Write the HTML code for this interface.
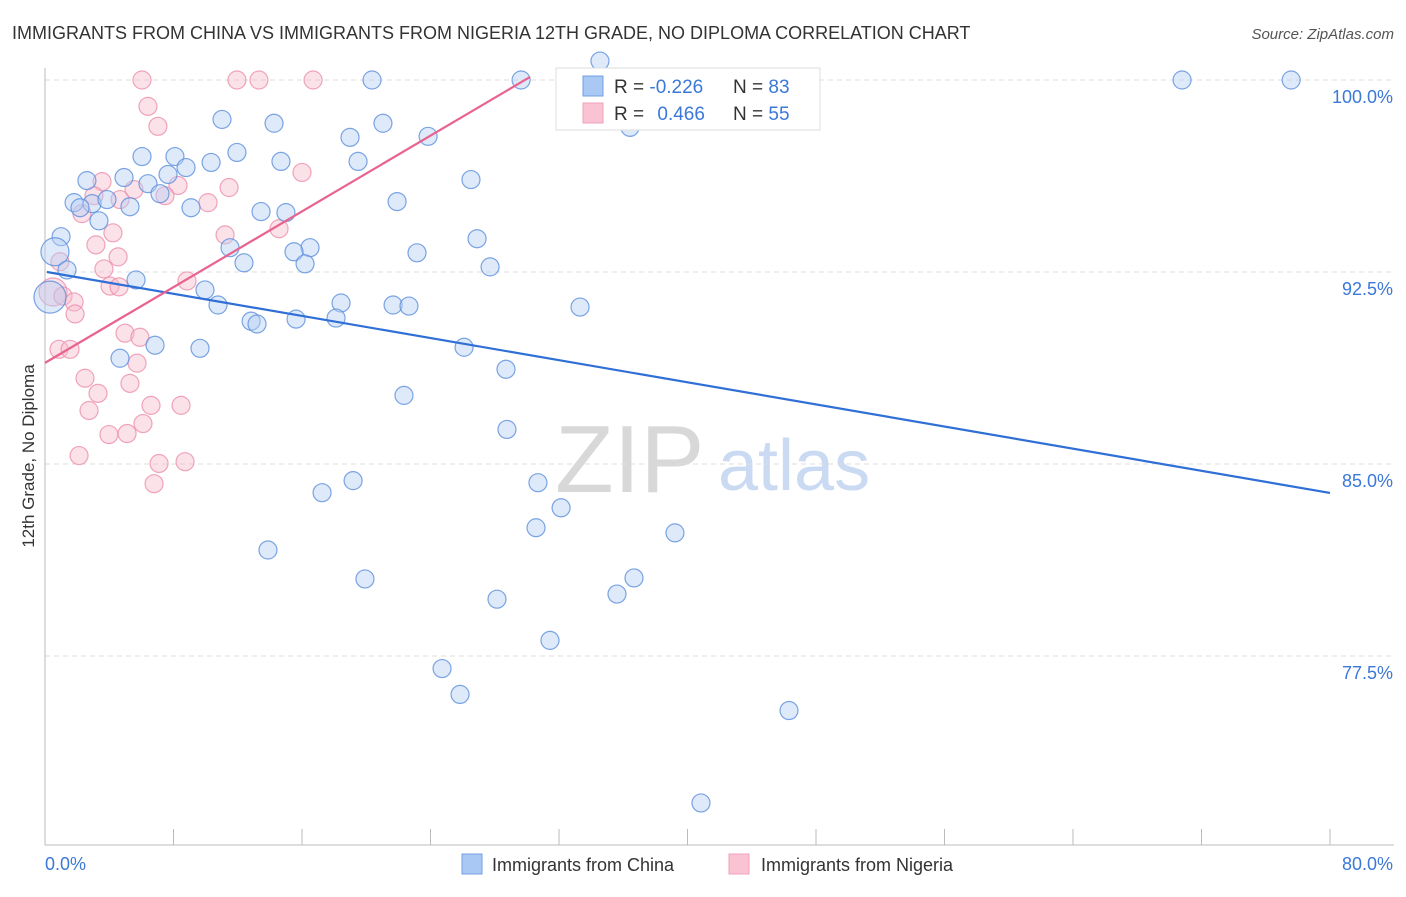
<!DOCTYPE html>
<html><head><meta charset="utf-8"><style>
body{margin:0;background:#fff;font-family:"Liberation Sans",sans-serif;}
svg text{font-family:"Liberation Sans",sans-serif;}
</style></head><body>
<svg id="chart" width="1406" height="892" viewBox="0 0 1406 892" xmlns="http://www.w3.org/2000/svg">
<text x="12" y="39" font-size="18" fill="#333">IMMIGRANTS FROM CHINA VS IMMIGRANTS FROM NIGERIA 12TH GRADE, NO DIPLOMA CORRELATION CHART</text>
<text x="1394" y="39" font-size="15" fill="#555" text-anchor="end" font-style="italic">Source: ZipAtlas.com</text>
<g>
<text x="555" y="492" font-size="96" fill="#d8d8d8" font-family="Liberation Serif,serif">ZIP</text>
<text x="718" y="490" font-size="72" fill="#c9daf2">atlas</text>
</g>
<g id="grid"></g>
<g id="axes"></g>
<g id="pts"></g>
<g id="lines"></g>
<text transform="translate(34,456) rotate(-90)" font-size="17" fill="#333" text-anchor="middle">12th Grade, No Diploma</text>
<g>
<rect x="556" y="68" width="264" height="62" fill="#fff" stroke="#ddd"/>
<rect x="583" y="76" width="20" height="20" fill="#a9c8f3" stroke="#6f9fe0"/>
<rect x="583" y="103" width="20" height="20" fill="#f9c3d3" stroke="#f0a0b8"/>
<text x="614" y="93" font-size="19" fill="#333">R = <tspan fill="#3b78d8">-0.226</tspan></text>
<text x="733" y="93" font-size="19" fill="#333">N = <tspan fill="#3b78d8">83</tspan></text>
<text x="614" y="120" font-size="19" fill="#333">R = <tspan fill="#3b78d8" dx="8">0.466</tspan></text>
<text x="733" y="120" font-size="19" fill="#333">N = <tspan fill="#3b78d8">55</tspan></text>
</g>
<g>
<rect x="462" y="854" width="20" height="20" fill="#a9c8f3" stroke="#6f9fe0"/>
<text x="492" y="871" font-size="18" fill="#333">Immigrants from China</text>
<rect x="729" y="854" width="20" height="20" fill="#f9c3d3" stroke="#f0a0b8"/>
<text x="761" y="871" font-size="18" fill="#333">Immigrants from Nigeria</text>
</g>
</svg>
<script>
const chinaX=[20.36,29.64,32.87,70.79,77.58,34.55,11.02,14.26,21.04,18.99,23.85,36.42,6.04,8.09,11.95,14.69,19.49,10.34,8.78,7.66,4.92,2.61,6.41,26.52,7.16,1.81,2.93,3.86,2.18,5.29,9.09,21.92,13.45,15.00,3.36,1.0,0.62,26.90,11.52,16.50,15.50,12.39,16.19,23.16,27.71,1.37,5.67,9.96,10.77,18.43,21.67,22.66,33.31,12.83,13.20,15.63,18.12,0.31,6.85,9.65,4.67,26.09,28.70,22.35,28.76,17.25,19.18,30.69,32.13,30.57,13.88,39.22,19.92,36.67,35.61,28.14,31.44,24.72,25.84,46.32,40.84];
const chinaY=[100,100,100,100,100,100.74,98.46,98.31,98.31,97.76,97.80,98.15,97.01,97.01,97.17,96.82,96.82,96.78,96.58,96.31,96.19,96.07,95.95,96.11,95.56,95.21,95.17,95.33,95.01,95.05,95.01,95.25,94.86,94.82,94.50,93.88,93.29,93.80,93.45,93.45,93.29,92.86,92.82,93.25,92.70,92.58,92.19,91.80,91.21,91.29,91.21,91.17,91.13,90.58,90.47,90.66,90.70,91.52,89.64,89.52,89.13,89.56,88.70,87.68,86.35,83.88,84.35,84.27,83.29,82.51,81.64,82.31,80.51,80.55,79.92,79.72,78.11,77.01,76.00,75.37,71.76];
const chinaR=[9,9,9,9,9,9,9,9,9,9,9,9,9,9,9,9,9,9,9,9,9,9,9,9,9,9,9,9,9,9,9,9,9,9,9,9,14,9,9,9,9,9,9,9,9,9,9,9,9,9,9,9,9,9,9,9,9,16,9,9,9,9,9,9,9,9,9,9,9,9,9,9,9,9,9,9,9,9,9,9,9];
const nigeriaX=[6.04,11.95,13.32,16.69,6.41,7.03,16.00,11.46,3.55,5.54,8.28,3.05,4.67,7.47,10.15,2.30,4.23,14.57,11.21,3.17,4.55,0.93,3.67,8.84,4.05,4.61,0.50,1.12,1.81,1.87,4.98,5.91,5.73,0.87,1.56,2.49,5.29,3.30,6.60,8.47,2.74,6.10,3.98,5.11,2.12,7.10,8.72,6.79];
const nigeriaY=[100,100,100,100,98.97,98.19,96.39,95.80,96.03,95.72,95.88,95.48,95.33,95.48,95.21,94.78,94.03,94.19,93.95,93.56,93.09,92.90,92.62,92.15,91.95,91.92,91.72,91.56,91.33,90.86,90.11,89.95,88.94,89.48,89.48,88.35,88.15,87.76,87.29,87.29,87.09,86.58,86.15,86.19,85.33,85.02,85.09,84.23];
const nigeriaR=[9,9,9,9,9,9,9,9,9,9,9,9,9,9,9,9,9,9,9,9,9,9,9,9,9,9,14,9,9,9,9,9,9,9,9,9,9,9,9,9,9,9,9,9,9,9,9,9];
const trendChinaX=[0.12,80];
const trendChinaY=[92.5,83.87];
const trendNigeriaX=[0,30.2];
const trendNigeriaY=[88.95,100.12];
const yTicks=[100,92.5,85,77.5];
const yTickLabels=["100.0%","92.5%","85.0%","77.5%"];
const xTickValues=[0,8,16,24,32,40,48,56,64,72,80];

const NS="http://www.w3.org/2000/svg";
function xs(v){return 45+v*(1330-45)/80;}
function ys(v){return 80+(100-v)*192/7.5;}
function mk(tag,attrs,parent){const e=document.createElementNS(NS,tag);for(const k in attrs)e.setAttribute(k,attrs[k]);parent.appendChild(e);return e;}
const grid=document.getElementById('grid'),axes=document.getElementById('axes'),pts=document.getElementById('pts'),lines=document.getElementById('lines');
yTicks.forEach((t,i)=>{
 const l=mk('line',{x1:45,x2:1394,y1:ys(t),y2:ys(t),stroke:'#ddd','stroke-dasharray':'5,4'},grid);
 
 
 const tx=mk('text',{x:1393,y:ys(t)+23,'font-size':18,fill:'#3b78d8','text-anchor':'end'},axes);
 tx.textContent=yTickLabels[i];
 
 
});
const ax=mk('line',{x1:45,x2:1394,y1:845,y2:845,stroke:'#bbb'},axes);


const ay=mk('line',{x1:45,x2:45,y1:68,y2:845,stroke:'#bbb'},axes);


xTickValues.forEach(v=>{
 const t=mk('line',{x1:xs(v),x2:xs(v),y1:829,y2:845,stroke:'#bbb'},axes);
 
 
});
const xl0=mk('text',{x:45,y:870,'font-size':18,fill:'#3b78d8'},axes);xl0.textContent='0.0%';


const xl1=mk('text',{x:1393,y:870,'font-size':18,fill:'#3b78d8','text-anchor':'end'},axes);xl1.textContent='80.0%';


function drawPts(X,Y,R,fill,stroke,name){
 X.forEach((x,i)=>{
  const c=mk('circle',{cx:xs(x),cy:ys(Y[i]),r:R[i],fill:fill,'fill-opacity':0.45,stroke:stroke,'stroke-width':1.2,'stroke-opacity':0.8},pts);
  
  
 });
}
drawPts(nigeriaX,nigeriaY,nigeriaR,'#f7bccd','#ec8fab','nigeria-point');
drawPts(chinaX,chinaY,chinaR,'#b5cff3','#5b8fdc','china-point');
const lb=mk('line',{x1:xs(trendChinaX[0]),y1:ys(trendChinaY[0]),x2:xs(trendChinaX[1]),y2:ys(trendChinaY[1]),stroke:'#2f6fd6','stroke-width':2.2},lines);


const lp=mk('line',{x1:xs(trendNigeriaX[0]),y1:ys(trendNigeriaY[0]),x2:xs(trendNigeriaX[1]),y2:ys(trendNigeriaY[1]),stroke:'#e8638f','stroke-width':2.2},lines);


</script>
</body></html>
